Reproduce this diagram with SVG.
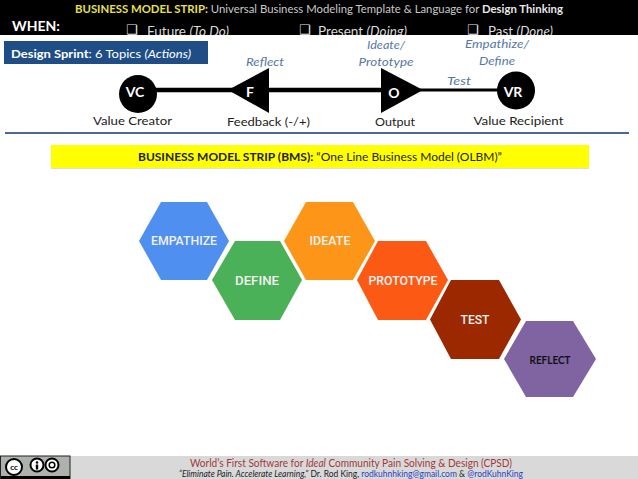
<svg xmlns="http://www.w3.org/2000/svg" width="638" height="479" viewBox="0 0 638 479">
<style>
text{font-family:"Lato","Carlito","Open Sans",sans-serif;font-size:12px;fill:#222}
.m{text-anchor:middle}
.it{font-style:italic;fill:#5579a3}
.b{font-weight:700}
.w{fill:#fff}
.hl{font-family:"Roboto","Open Sans",sans-serif;font-weight:500;font-size:12px;fill:#f2f2f2;text-anchor:middle}
.nt{font-weight:700;font-size:14px;fill:#fff;text-anchor:middle}
.top{fill:#d9d9d9;font-size:13.500px}
.chk{fill:#e8e8e8;font-family:"DejaVu Sans",sans-serif;font-size:13px}
</style>
<rect width="638" height="479" fill="#fff"/>
<g id="header">
<rect width="638" height="35" fill="#000"/>
<text x="75" y="13" style="font-size:10.500px;fill:#c9c9c9" textLength="488" lengthAdjust="spacingAndGlyphs"><tspan class="b" style="fill:#e6e04a">BUSINESS MODEL STRIP:</tspan> Universal Business Modeling Template &amp; Language for <tspan class="b" style="fill:#e8e8e8">Design Thinking</tspan></text>
<text x="12" y="31" class="b w" style="font-size:14px">WHEN:</text>
<text x="126" y="34" class="chk">❑</text>
<text x="147" y="35.500" class="top" textLength="82" lengthAdjust="spacingAndGlyphs">Future <tspan font-style="italic">(To Do)</tspan></text>
<text x="299" y="34" class="chk">❑</text>
<text x="318" y="35.500" class="top" textLength="89" lengthAdjust="spacingAndGlyphs">Present <tspan font-style="italic">(Doing)</tspan></text>
<text x="467" y="34" class="chk">❑</text>
<text x="488" y="35.500" class="top" textLength="65" lengthAdjust="spacingAndGlyphs">Past <tspan font-style="italic">(Done)</tspan></text>
<rect y="35" width="638" height="10" fill="#fff"/>
</g>
<g id="sprint">
<rect x="4" y="41" width="204" height="23" fill="#1f4e86"/>
<text x="11" y="58" class="w" textLength="180" lengthAdjust="spacingAndGlyphs" style="fill:#fff"><tspan class="b" style="fill:#fff">Design Sprint</tspan>: 6 Topics <tspan font-style="italic">(Actions)</tspan></text>
</g>
<g id="connectors">
<path d="M138 90H381" stroke="#000" stroke-width="4.500" fill="none"/>
<path d="M420 90H500" stroke="#000" stroke-width="3" fill="none"/>
</g>
<g id="VC"><circle cx="138" cy="94" r="19" fill="#000"/><text x="135" y="97" class="nt">VC</text></g>
<g id="F"><path d="M228 90L269 68V113Z" fill="#000"/><text x="250" y="97" class="nt">F</text></g>
<g id="O"><path d="M381 68L423 90L381 113Z" fill="#000"/><text x="394" y="98" class="nt">O</text></g>
<g id="VR"><circle cx="516" cy="90.500" r="19" fill="#000"/><text x="513" y="97" class="nt">VR</text></g>
<g id="labels">
<text x="132.500" y="125" class="m" textLength="79" lengthAdjust="spacingAndGlyphs">Value Creator</text>
<text x="268.500" y="126" class="m" textLength="83" lengthAdjust="spacingAndGlyphs">Feedback (-/+)</text>
<text x="395" y="126" class="m" textLength="40" lengthAdjust="spacingAndGlyphs">Output</text>
<text x="518.500" y="125" class="m" textLength="90" lengthAdjust="spacingAndGlyphs">Value Recipient</text>
<text x="265" y="66" class="m it" textLength="38" lengthAdjust="spacingAndGlyphs">Reflect</text>
<text x="386" y="49" class="m it" textLength="38" lengthAdjust="spacingAndGlyphs">Ideate/</text>
<text x="386" y="66" class="m it" textLength="55" lengthAdjust="spacingAndGlyphs">Prototype</text>
<text x="497" y="48" class="m it" textLength="64" lengthAdjust="spacingAndGlyphs">Empathize/</text>
<text x="497" y="65" class="m it" textLength="36" lengthAdjust="spacingAndGlyphs">Define</text>
<text x="459" y="85" class="m it" textLength="24" lengthAdjust="spacingAndGlyphs">Test</text>
</g>
<path id="rule" d="M5 133H629" stroke="#4a6a92" stroke-width="2" fill="none"/>
<g id="bms">
<rect x="51" y="145" width="538" height="23" fill="#ffff00"/>
<rect x="51" y="168" width="538" height="1" fill="#ddd"/>
<text x="320" y="161" class="m" textLength="364" lengthAdjust="spacingAndGlyphs"><tspan class="b">BUSINESS MODEL STRIP (BMS):</tspan> “One Line Business Model (OLBM)”</text>
</g>
<g id="empathize"><path d="M139 241L161 202H207L229 241L207 280H161Z" fill="#4f8fef"/><text x="184" y="245" class="hl" textLength="66" lengthAdjust="spacingAndGlyphs">EMPATHIZE</text></g>
<g id="define"><path d="M212 280L235 241H280L302 280L280 320H235Z" fill="#4bb158"/><text x="257" y="285" class="hl" textLength="44" lengthAdjust="spacingAndGlyphs">DEFINE</text></g>
<g id="ideate"><path d="M284 241L306 202H353L375 241L353 280H306Z" fill="#fd9618"/><text x="330" y="245" class="hl" textLength="41" lengthAdjust="spacingAndGlyphs">IDEATE</text></g>
<g id="prototype"><path d="M357 280L378 241H426L448 280L426 320H378Z" fill="#fc5a14"/><text x="403" y="285" class="hl" textLength="69" lengthAdjust="spacingAndGlyphs">PROTOTYPE</text></g>
<g id="test"><path d="M430 319.500L451 280H499L521 319.500L499 359H451Z" fill="#9c2800"/><text x="475" y="324" class="hl" textLength="29" lengthAdjust="spacingAndGlyphs">TEST</text></g>
<g id="reflect"><path d="M504 359L526 321H573L596 359L573 397H526Z" fill="#8064a2"/><text x="550" y="364" class="m b" style="font-size:11px;fill:#111" textLength="41" lengthAdjust="spacingAndGlyphs">REFLECT</text></g>
<g id="footer">
<rect y="456" width="638" height="23" fill="#d9d9d9"/>
<text x="351" y="467" class="m" style="font-size:12px;fill:#a0393a" textLength="322" lengthAdjust="spacingAndGlyphs">World’s First Software for <tspan font-style="italic">Ideal</tspan> Community Pain Solving &amp; Design (CPSD)</text>
<text x="351" y="477" class="m" style="font-size:9px;fill:#222" textLength="344" lengthAdjust="spacingAndGlyphs"><tspan font-style="italic">“Eliminate Pain. Accelerate Learning,”</tspan> Dr. Rod King, <tspan style="fill:#2a3fc0">rodkuhnhking@gmail.com</tspan> &amp; <tspan style="fill:#2a3fc0">@rodKuhnKing</tspan></text>
</g>
<g id="cc">
<rect x="0.500" y="456" width="69.500" height="23" fill="#adb2ad" stroke="#222" stroke-width="1"/>
<rect x="1" y="476" width="69" height="3" fill="#000"/>
<circle cx="14" cy="467" r="8" fill="#fff" stroke="#000" stroke-width="2"/>
<text x="14" y="470" class="m b" style="font-size:8px;fill:#000">cc</text>
<circle cx="37" cy="465" r="6.500" fill="#fff" stroke="#000" stroke-width="2"/>
<circle cx="37" cy="462.500" r="1.300" fill="#000"/><rect x="35.800" y="464.500" width="2.400" height="5" fill="#000"/>
<circle cx="52" cy="465" r="6.500" fill="#fff" stroke="#000" stroke-width="2"/>
<circle cx="52" cy="465" r="2.800" fill="none" stroke="#000" stroke-width="1.500"/>
</g>
</svg>
